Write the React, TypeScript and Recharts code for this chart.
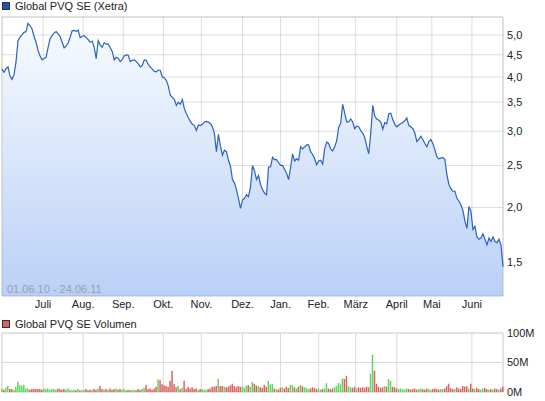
import React from "react";
import {
  Area, AreaChart, Bar, BarChart, CartesianGrid, Cell, ReferenceArea, XAxis, YAxis
} from "recharts";

// daily closes (EUR), 01.06.10 - 24.06.11
const closes = [
  4.17, 4.10, 4.18, 4.22, 4.02, 3.95, 4.05, 4.34, 4.85, 4.94,
  5.00, 5.07, 5.09, 5.32, 5.25, 5.16, 4.96, 4.81, 4.60, 4.47,
  4.38, 4.41, 4.44, 4.68, 4.90, 4.98, 5.05, 5.09, 5.03, 4.96,
  4.81, 4.67, 4.72, 4.79, 4.94, 5.11, 5.12, 5.10, 5.13, 4.93,
  4.96, 4.98, 4.93, 4.88, 4.81, 4.84, 4.68, 4.41, 4.85, 4.74,
  4.68, 4.80, 4.76, 4.76, 4.67, 4.58, 4.38, 4.44, 4.42, 4.34,
  4.39, 4.47, 4.50, 4.49, 4.34, 4.37, 4.38, 4.34, 4.29, 4.22,
  4.25, 4.38, 4.37, 4.27, 4.22, 4.17, 4.12, 4.11, 4.15, 4.14,
  4.00, 3.98, 3.93, 3.81, 3.63, 3.59, 3.55, 3.44, 3.50, 3.46,
  3.55, 3.38, 3.29, 3.22, 3.16, 3.11, 3.09, 3.01, 3.10, 3.09,
  3.11, 3.15, 3.16, 3.15, 3.12, 3.07, 2.96, 2.69, 2.95, 2.77,
  2.64, 2.71, 2.69, 2.57, 2.49, 2.32, 2.28, 2.20, 2.10, 1.99,
  2.08, 2.10, 2.14, 2.12, 2.23, 2.50, 2.43, 2.32, 2.37, 2.26,
  2.20, 2.16, 2.14, 2.48, 2.48, 2.61, 2.58, 2.58, 2.54, 2.50,
  2.50, 2.45, 2.40, 2.32, 2.47, 2.66, 2.56, 2.59, 2.57, 2.76,
  2.73, 2.76, 2.79, 2.79, 2.69, 2.65, 2.59, 2.51, 2.56, 2.57,
  2.52, 2.73, 2.83, 2.81, 2.73, 2.70, 2.76, 2.85, 3.06, 3.13,
  3.46, 3.30, 3.15, 3.15, 3.20, 3.15, 3.04, 3.08, 3.07, 3.01,
  2.97, 2.90, 2.77, 2.66, 2.96, 3.44, 3.25, 3.20, 3.18, 3.15,
  3.03, 3.14, 3.12, 3.29, 3.30, 3.19, 3.11, 3.07, 3.10, 3.12,
  3.14, 3.17, 3.22, 3.09, 3.07, 3.04, 2.97, 2.84, 2.87, 2.92,
  2.87, 2.81, 2.76, 2.84, 2.87, 2.81, 2.72, 2.62, 2.59, 2.60,
  2.61, 2.58, 2.38, 2.26, 2.21, 2.18, 2.18, 2.10, 2.07, 2.03,
  1.97, 1.86, 1.79, 2.01, 1.96, 1.78, 1.81, 1.71, 1.69, 1.70,
  1.74, 1.69, 1.64, 1.70, 1.67, 1.71, 1.67, 1.66, 1.69, 1.64, 1.46,
];

// traded volume, millions of shares
const volumes = [
  6, 4, 7, 10, 5, 5, 4, 9, 17, 12, 10, 12, 6, 6, 4, 5, 5, 5, 5, 5,
  4, 6, 5, 6, 4, 5, 5, 4, 6, 5, 4, 5, 4, 6, 4, 3, 4, 3, 5, 3,
  3, 4, 5, 3, 4, 4, 5, 4, 6, 10, 5, 4, 5, 4, 6, 4, 5, 6, 4, 5,
  4, 5, 3, 4, 3, 4, 4, 3, 5, 4, 5, 7, 12, 5, 6, 4, 6, 9, 21, 20,
  13, 11, 10, 9, 19, 36, 13, 8, 10, 5, 7, 19, 5, 9, 6, 8, 5, 6, 4, 5,
  5, 4, 4, 5, 6, 9, 9, 10, 22, 10, 10, 9, 8, 9, 11, 14, 10, 8, 10, 9,
  9, 7, 10, 12, 9, 17, 14, 11, 10, 8, 7, 12, 9, 19, 13, 14, 6, 5, 4, 7,
  8, 6, 9, 7, 12, 12, 8, 6, 9, 12, 10, 8, 7, 5, 6, 8, 7, 5, 6, 4,
  5, 6, 15, 6, 5, 6, 8, 10, 15, 13, 23, 22, 27, 10, 8, 7, 9, 6, 8, 7,
  8, 7, 9, 8, 31, 63, 36, 14, 9, 7, 8, 10, 9, 22, 19, 9, 8, 6, 5, 6,
  5, 4, 6, 5, 4, 5, 6, 4, 5, 6, 5, 4, 6, 5, 4, 5, 6, 5, 4, 5,
  5, 6, 10, 14, 7, 5, 5, 8, 6, 5, 10, 9, 10, 6, 14, 6, 5, 7, 5, 4,
  6, 7, 5, 4, 5, 4, 6, 5, 4, 6, 9,
];

// month boundaries in trading-day index
const monthStarts = [20.5, 40.5, 60.5, 80.5, 99.5, 120, 139, 158, 176.5, 197, 214.5, 234.5];
const monthLabels = ["Juli", "Aug.", "Sep.", "Okt.", "Nov.", "Dez.", "Jan.", "Feb.", "März", "April", "Mai", "Juni"];
const priceTicks = [1.5, 2, 2.5, 3, 3.5, 4, 4.5, 5];
const volumeTicks = [0, 50, 100];

const lastIdx = closes.length - 1;
const priceRows = closes.map((c, i) => ({ i, close: c }));
const volumeRows = volumes.map((v, i) => ({ i, vol: v }));

const UP = "#5fd65a";
const DOWN = "#da6262";
const GRID = "#dadada";
const tickStyle = { fill: "#222", fontSize: 11 };

const monthName = (v: number) => {
  const k = monthStarts.indexOf(v);
  return k >= 0 ? monthLabels[k] : "";
};

function LegendRow({ color, text }: { color: string; text: string }) {
  return (
    <div style={{ display: "flex", alignItems: "center", fontSize: 11, color: "#222" }}>
      <span style={{ width: 6, height: 6, background: color, border: "1px solid #333", marginRight: 5 }} />
      {text}
    </div>
  );
}

export default function App() {
  return (
    <div style={{ position: "absolute", left: 0, top: 0, width: 545, height: 401, background: "#fff", fontFamily: "'Liberation Sans', Arial, sans-serif" }}>
      <div style={{ position: "absolute", left: 2, top: 0 }}>
        <LegendRow color="#1f56b3" text="Global PVQ SE (Xetra)" />
      </div>

      <div style={{ position: "absolute", left: 0, top: 0 }}>
        <AreaChart width={545} height={320} data={priceRows} margin={{ top: 17, right: 0, bottom: 0, left: 2 }}>
          <defs>
            <linearGradient id="pvqFill" x1="0" y1="0" x2="0" y2="1">
              <stop offset="0%" stopColor="#f8fbff" />
              <stop offset="100%" stopColor="#b9d0f6" />
            </linearGradient>
          </defs>
          <XAxis
            type="number" dataKey="i" domain={[0, lastIdx]} ticks={monthStarts}
            tickFormatter={monthName} axisLine={false} tickLine={false}
            tickSize={0} tickMargin={4} height={24} tick={tickStyle} interval={0}
          />
          <YAxis
            orientation="right" scale="log" domain={[1.25, 5.5]} allowDataOverflow
            ticks={priceTicks} tickFormatter={(v: number) => v.toFixed(1).replace(".", ",")}
            axisLine={false} tickLine={false} tickSize={0} tickMargin={4} width={42} tick={tickStyle} interval={0}
          />
          <Area
            type="linear" dataKey="close" stroke="#2c61c2" strokeWidth={1.2}
            fill="url(#pvqFill)" fillOpacity={1} isAnimationActive={false} dot={false} activeDot={false}
          />
          <CartesianGrid stroke="#000" strokeOpacity={0.13} />
          <ReferenceArea x1={0} x2={lastIdx} y1={1.25} y2={5.5} fill="none" stroke="#000" strokeOpacity={0.13} ifOverflow="visible" />
        </AreaChart>
      </div>

      <div style={{ position: "absolute", left: 7, top: 283, fontSize: 11, color: "#9aa0aa" }}>
        01.06.10 - 24.06.11
      </div>

      <div style={{ position: "absolute", left: 2, top: 318 }}>
        <LegendRow color={DOWN} text="Global PVQ SE Volumen" />
      </div>

      <div style={{ position: "absolute", left: 0, top: 326 }}>
        <BarChart width={545} height={75} data={volumeRows} margin={{ top: 7, right: 0, bottom: 9, left: 2 }} barCategoryGap={0}>
          <CartesianGrid stroke={GRID} />
          <XAxis type="number" dataKey="i" domain={[0, lastIdx]} ticks={monthStarts} hide />
          <YAxis
            orientation="right" domain={[0, 100]} ticks={volumeTicks} interval={0}
            tickFormatter={(v: number) => `${v}M`} axisLine={false} tickLine={false}
            tickSize={0} tickMargin={4} width={42} tick={tickStyle}
          />
          <ReferenceArea x1={0} x2={lastIdx} y1={0} y2={100} fill="none" stroke={GRID} ifOverflow="visible" />
          <Bar dataKey="vol" barSize={1.5} isAnimationActive={false}>
            {volumes.map((_, i) => (
              <Cell key={i} fill={i > 0 && closes[i] < closes[i - 1] ? DOWN : UP} />
            ))}
          </Bar>
        </BarChart>
      </div>
    </div>
  );
}
